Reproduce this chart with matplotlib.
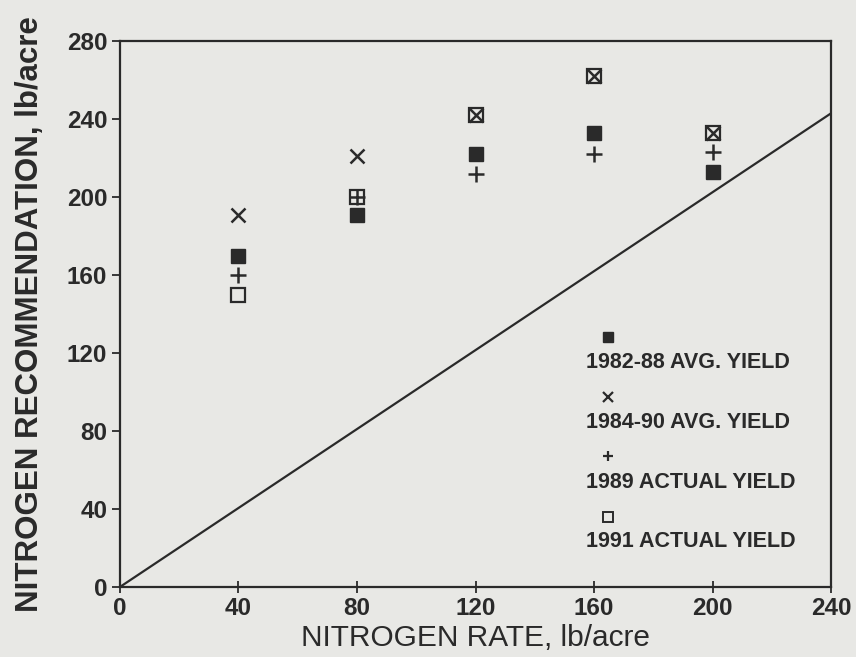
import matplotlib
matplotlib.use("Agg")
import matplotlib.pyplot as plt

n_rate = [40, 80, 120, 160, 200]
avg_82_88 = [170, 191, 222, 233, 213]
avg_84_90 = [191, 221, 242, 262, 233]
actual_89 = [160, 200, 212, 222, 223]
actual_91 = [150, 200, 242, 262, 233]
line_x = [0, 240]
line_y = [0, 243]
x_ticks = [0, 40, 80, 120, 160, 200, 240]
y_ticks = [0, 40, 80, 120, 160, 200, 240, 280]
legend_labels = ["1982-88 AVG. YIELD", "1984-90 AVG. YIELD",
                 "1989 ACTUAL YIELD", "1991 ACTUAL YIELD"]

plt.rcParams['font.family'] = ['Liberation Sans', 'DejaVu Sans']
ink = "#2a2a2a"
bg = "#e8e8e5"

fig = plt.figure(figsize=(8.56, 6.57), dpi=100, facecolor=bg)
ax = fig.add_axes([0.140, 0.1065, 0.831, 0.831])
ax.set_facecolor(bg)

ax.plot(line_x, line_y, color=ink, lw=1.6)
ax.plot(n_rate, avg_82_88, ls='none', marker='s', ms=10, color=ink)
ax.plot(n_rate, avg_84_90, ls='none', marker='x', ms=10, mew=1.8, color=ink)
ax.plot(n_rate, actual_89, ls='none', marker='+', ms=11, mew=1.8, color=ink)
ax.plot(n_rate, actual_91, ls='none', marker='s', ms=10, mew=1.6, mfc='none', mec=ink)

ax.set_xlim(0, 240)
ax.set_ylim(0, 280)
ax.set_xticks(x_ticks)
ax.set_yticks(y_ticks)
ax.tick_params(axis='y', direction='out', length=6, width=1.3, colors=ink, labelsize=17.5, pad=3)
ax.tick_params(axis='x', direction='inout', length=8, width=1.3, colors=ink, labelsize=17.5, pad=3)
for lab in ax.get_yticklabels() + ax.get_xticklabels():
    lab.set_fontweight('bold')
for s in ax.spines.values():
    s.set_color(ink)
    s.set_linewidth(1.6)

ax.set_xlabel("NITROGEN RATE, lb/acre", fontsize=21.5, color=ink, labelpad=3)
ax.set_ylabel("NITROGEN RECOMMENDATION, lb/acre", fontsize=22.5, fontweight='bold',
              color=ink, labelpad=16)

# legend: marker above text
mk = [dict(marker='s', ms=7, color=ink, ls='none'),
      dict(marker='x', ms=7, mew=1.6, color=ink, ls='none'),
      dict(marker='+', ms=7, mew=1.6, color=ink, ls='none'),
      dict(marker='s', ms=7, mew=1.4, mfc='none', mec=ink, ls='none')]
mk_y = [0.458, 0.348, 0.240, 0.128]
tx_y = [0.412, 0.302, 0.192, 0.084]
for m, yy, ty, lbl in zip(mk, mk_y, tx_y, legend_labels):
    ax.plot([0.686], [yy], transform=ax.transAxes, clip_on=False, **m)
    ax.text(0.655, ty, lbl, transform=ax.transAxes, fontsize=15.5, fontweight='bold',
            color=ink, va='center', ha='left')

fig.savefig("out.png", dpi=100, facecolor=bg)
